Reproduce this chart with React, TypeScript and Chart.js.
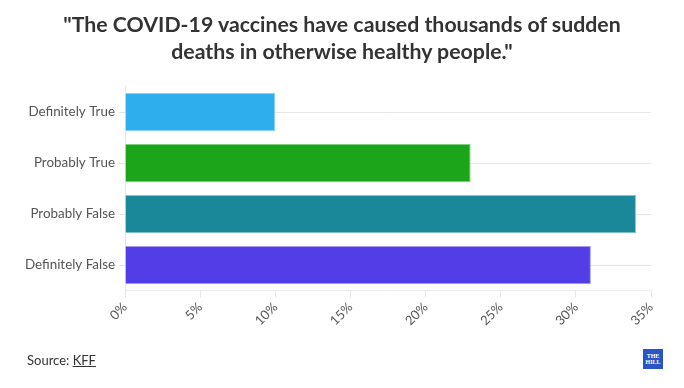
import React, { useEffect, useRef } from "react";
import { Chart, registerables } from "chart.js";

Chart.register(...registerables);

const categories = ["Definitely True", "Probably True", "Probably False", "Definitely False"];
const values = [10, 23, 34, 31];
const barColors = ["#2FAEEE", "#1CA41A", "#1B8899", "#533DE6"];
const barBorders = ["#8CD3F6", "#7FD07E", "#86C2CB", "#A59BF1"];
const xTicks = [0, 5, 10, 15, 20, 25, 30, 35];
const titleLines = ['"The COVID-19 vaccines have caused thousands of sudden', 'deaths in otherwise healthy people."'];

const FONT = "Lato, 'Noto Sans', sans-serif";

export default function App() {
  const ref = useRef<HTMLCanvasElement>(null);
  useEffect(() => {
    document.body.style.margin = "0";
    const chart = new Chart(ref.current!, {
      type: "bar",
      data: {
        labels: categories,
        datasets: [
          {
            data: values,
            backgroundColor: barColors,
            borderColor: barBorders,
            borderWidth: 1,
            barPercentage: 0.75,
            categoryPercentage: 1,
          },
        ],
      },
      options: {
        indexAxis: "y",
        animation: false,
        responsive: false,
        maintainAspectRatio: false,
        layout: { padding: { top: 86.5, right: 33, left: 0, bottom: 0 } },
        plugins: { legend: { display: false }, tooltip: { enabled: false }, title: { display: false } },
        scales: {
          x: {
            min: 0,
            max: 35,
            afterBuildTicks: (s: any) => {
              s.ticks = xTicks.map((v) => ({ value: v }));
            },
            afterFit: (s: any) => {
              s.height = 97.5;
            },
            grid: { drawOnChartArea: false, drawTicks: true, tickLength: 7, color: "#e6e6e6" },
            border: { display: true, color: "#ececec" },
            ticks: {
              minRotation: 45,
              maxRotation: 45,
              padding: 2,
              color: "#555",
              font: { family: FONT, size: 13 },
              callback: (v: any) => v + "%",
            },
          },
          y: {
            afterFit: (s: any) => {
              s.width = 125;
            },
            grid: { offset: false, drawOnChartArea: true, drawTicks: true, tickLength: 6, color: "#e6e6e6" },
            border: { display: true, color: "#e6e6e6" },
            ticks: { padding: 4, color: "#555", font: { family: FONT, size: 13.4 } },
          },
        },
      },
    });
    return () => chart.destroy();
  }, []);
  return (
    <div style={{ position: "relative", width: 684, height: 388, background: "#fff", overflow: "hidden" }}>
      <canvas ref={ref} width={684} height={388} style={{ position: "absolute", left: 0, top: 0 }} />
      <div
        style={{
          position: "absolute",
          top: 10.5,
          left: 0,
          width: 684,
          textAlign: "center",
          fontFamily: FONT,
          fontWeight: 700,
          fontSize: 21.3,
          lineHeight: "27px",
          color: "#333",
        }}
      >
        {titleLines.map((t, i) => (
          <div key={i}>{t}</div>
        ))}
      </div>
      <div
        style={{
          position: "absolute",
          top: 351,
          left: 27,
          fontFamily: FONT,
          fontSize: 13,
          lineHeight: "18px",
          color: "#333",
        }}
      >
        Source: <span style={{ textDecoration: "underline" }}>KFF</span>
      </div>
      <div
        style={{
          position: "absolute",
          top: 349,
          left: 643,
          width: 20,
          height: 20,
          background: "#2A55C4",
          color: "#fff",
          fontFamily: "'Liberation Serif', serif",
          fontSize: 6,
          lineHeight: "6px",
          textAlign: "center",
          paddingTop: 4,
          boxSizing: "border-box",
          fontWeight: 700,
        }}
      >
        <div>THE</div>
        <div>HILL</div>
      </div>
    </div>
  );
}
